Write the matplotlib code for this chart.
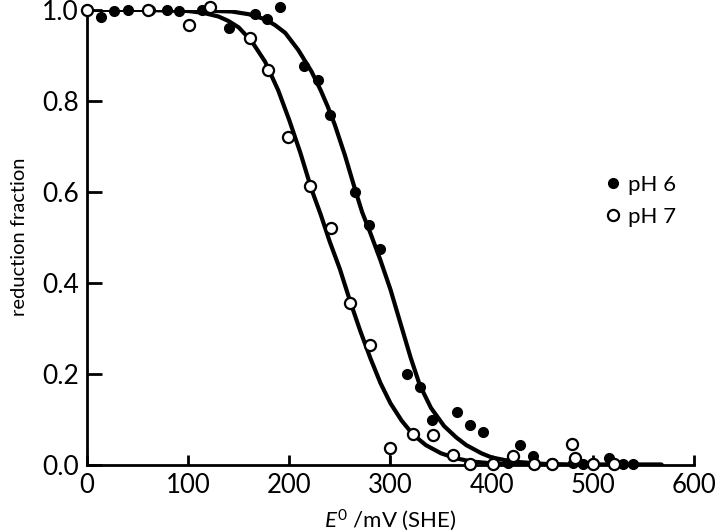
import numpy as np
import matplotlib
matplotlib.use("Agg")
import matplotlib.pyplot as plt

plt.rcParams['font.family'] = ['Lato', 'DejaVu Sans']
plt.rcParams['mathtext.fontset'] = 'custom'
plt.rcParams['mathtext.rm'] = 'Lato'
plt.rcParams['mathtext.it'] = 'Lato:italic'

# measured points, pH 6 (filled)
ph6_E = [0, 14, 27, 41, 62, 79, 91, 114, 140, 166, 178, 191, 215, 228, 240,
         265, 279, 290, 316, 329, 341, 366, 379, 391, 416, 428, 441, 460,
         480, 490, 500, 516, 530, 540]
ph6_y = [1.0, 0.985, 0.998, 1.0, 1.0, 1.0, 0.998, 0.999, 0.959, 0.99, 0.979,
         1.005, 0.876, 0.845, 0.769, 0.599, 0.527, 0.474, 0.199, 0.171, 0.098,
         0.116, 0.087, 0.072, 0.003, 0.043, 0.019, 0.003, 0.003, 0.002, 0.003,
         0.015, 0.002, 0.002]

# measured points, pH 7 (open)
ph7_E = [0, 60, 101, 122, 161, 179, 199, 220, 241, 260, 280, 300, 322, 342,
         362, 379, 401, 421, 442, 460, 479, 482, 500, 521]
ph7_y = [1.0, 1.0, 0.967, 1.005, 0.937, 0.867, 0.721, 0.612, 0.52, 0.356,
         0.262, 0.037, 0.067, 0.065, 0.022, 0.002, 0.002, 0.019, 0.002, 0.002,
         0.046, 0.015, 0.002, 0.002]

# fitted curves
fit6_E = [0, 100, 143, 160, 176, 186, 196, 209, 222, 231, 238, 245, 255, 265,
          272, 280, 290, 300, 310, 320, 329, 340, 353, 365, 375, 390, 400, 420,
          450, 480, 568]
fit6_y = [1.0, 0.999, 0.996, 0.99, 0.979, 0.966, 0.949, 0.911, 0.864, 0.823,
          0.787, 0.747, 0.68, 0.605, 0.555, 0.51, 0.45, 0.385, 0.31, 0.235,
          0.175, 0.125, 0.085, 0.06, 0.043, 0.025, 0.016, 0.007, 0.002, 0.0, 0.0]

fit7_E = [0, 50, 100, 115, 130, 140, 150, 163, 176, 189, 200, 211, 222, 231,
          240, 250, 260, 270, 280, 290, 300, 311, 322, 335, 350, 365, 380, 400,
          430, 470, 568]
fit7_y = [1.0, 1.0, 0.997, 0.993, 0.985, 0.975, 0.961, 0.93, 0.886, 0.823,
          0.757, 0.685, 0.605, 0.55, 0.49, 0.43, 0.36, 0.295, 0.235, 0.18,
          0.135, 0.097, 0.067, 0.043, 0.025, 0.014, 0.007, 0.003, 0.001, 0.0, 0.0]

stem_idx = 11  # open point at 300 mV drawn with a stem

fig = plt.figure(figsize=(7.2, 5.32), dpi=100)
ax = fig.add_axes([0.1208, 0.1265, 0.843, 0.8553])

ax.plot(fit6_E, fit6_y, '-', color='black', lw=3, solid_capstyle='round', zorder=2)
ax.plot(fit7_E, fit7_y, '-', color='black', lw=3, solid_capstyle='round', zorder=2)
ax.vlines(ph7_E[stem_idx], 0, ph7_y[stem_idx], color='black', lw=1.5, zorder=2)

ax.plot(ph6_E, ph6_y, 'o', color='black', ms=7, clip_on=False, zorder=3, label='pH 6')
ax.plot(ph7_E, ph7_y, 'o', mfc='white', mec='black', mew=1.6, ms=8, clip_on=False,
        zorder=3, label='pH 7')

ax.set_xlim(0, 600)
ax.set_ylim(0, 1.0)
ax.set_xticks([0, 100, 200, 300, 400, 500, 600])
ax.set_yticks([0.0, 0.2, 0.4, 0.6, 0.8, 1.0])
ax.set_yticklabels(['0.0', '0.2', '0.4', '0.6', '0.8', '1.0'])

for s in ['top', 'right']:
    ax.spines[s].set_visible(False)
for s in ['left', 'bottom']:
    ax.spines[s].set_linewidth(2)

ax.tick_params(axis='y', direction='in', length=10.5, width=2, labelsize=19, pad=6)
ax.tick_params(axis='x', direction='in', length=7.5, width=2, labelsize=18.5, pad=6)

ax.set_xlabel(r'$\mathit{E}^{0}$ /mV (SHE)', fontsize=16, labelpad=7)
ax.set_ylabel('reduction fraction', fontsize=14.5, labelpad=10)

ax.legend(loc='center left', bbox_to_anchor=(0.855, 0.58), frameon=False,
          fontsize=16, handlelength=0.6, handletextpad=0.4, borderpad=0,
          labelspacing=0.55, borderaxespad=0)

plt.savefig('out.png', dpi=100)
